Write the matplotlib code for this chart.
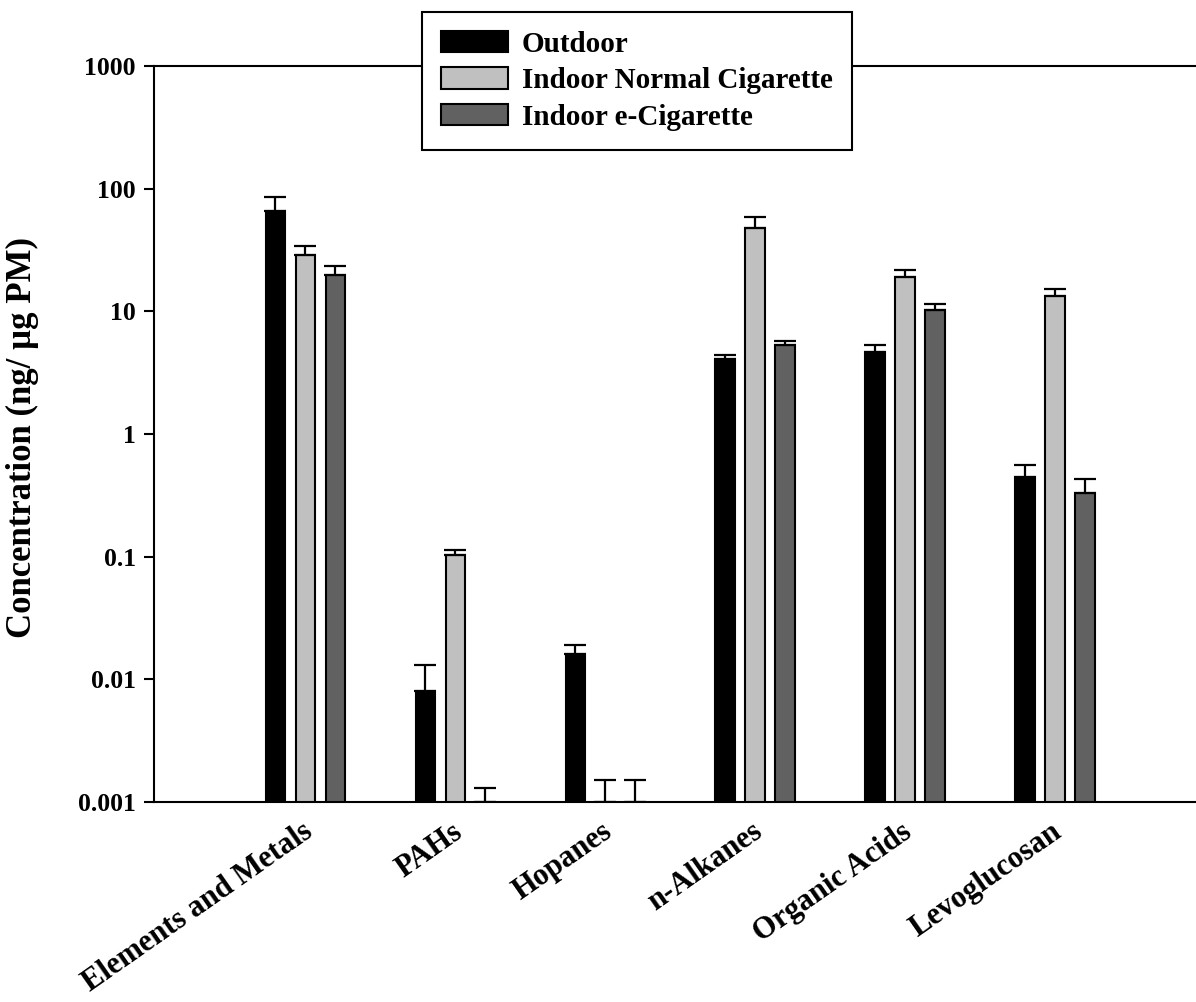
import numpy as np
import matplotlib
matplotlib.use("Agg")
import matplotlib.pyplot as plt
from matplotlib.transforms import ScaledTranslation

categories = ["Elements and Metals", "PAHs", "Hopanes", "n-Alkanes", "Organic Acids", "Levoglucosan"]
series = ["Outdoor", "Indoor Normal Cigarette", "Indoor e-Cigarette"]
outdoor = [65.7, 0.0081, 0.0161, 4.11, 4.66, 0.443]
outdoor_upper = [86.0, 0.0131, 0.019, 4.4, 5.28, 0.559]
indoor_cig = [28.8, 0.103, 0.001, 47.5, 19.1, 13.4]
indoor_cig_upper = [34.3, 0.113, 0.0015, 58.7, 21.6, 15.3]
indoor_ecig = [19.8, 0.001, 0.001, 5.31, 10.2, 0.329]
indoor_ecig_upper = [23.4, 0.0013, 0.0015, 5.73, 11.5, 0.427]
yticks = [0.001, 0.01, 0.1, 1, 10, 100, 1000]
yticklabels = ["0.001", "0.01", "0.1", "1", "10", "100", "1000"]

colors = ["#000000", "#c0c0c0", "#616161"]

plt.rcParams['font.family'] = ['Liberation Serif', 'DejaVu Serif']
plt.rcParams['font.weight'] = 'bold'

fig = plt.figure(figsize=(11.96, 10.02), dpi=100)
ax = fig.add_axes([154/1196, 1-802/1002, 1-154/1196, (802-66)/1002])
ax.set_yscale('log')
ax.set_ylim(0.001, 1000)

x = np.arange(len(categories))
width = 0.127
offs = [-0.2, 0.0, 0.2]
vals = [outdoor, indoor_cig, indoor_ecig]
ups = [outdoor_upper, indoor_cig_upper, indoor_ecig_upper]
handles = []
for i in range(3):
    v = np.array(vals[i]); u = np.array(ups[i])
    b = ax.bar(x + offs[i], v, width, color=colors[i], edgecolor='black', linewidth=1.5,
               label=series[i], zorder=2)
    handles.append(b)
    ax.errorbar(x + offs[i], v, yerr=[np.zeros_like(v), u - v], fmt='none', ecolor='black',
                elinewidth=1.6, capsize=8, capthick=1.6, zorder=3)

ax.set_xlim(-1.007, 5.94)
ax.set_xticks(x)
ax.set_xticklabels(categories, rotation=35, ha='right', rotation_mode='anchor', fontsize=22, fontweight='bold')
ax.tick_params(axis='x', length=0, pad=11)
for lab in ax.get_xticklabels():
    lab.set_transform(lab.get_transform() + ScaledTranslation(-0.04, 0, fig.dpi_scale_trans))

ax.set_yticks(yticks)
ax.set_yticklabels(yticklabels, fontsize=18.5, fontweight='bold')
ax.yaxis.set_minor_locator(matplotlib.ticker.NullLocator())
ax.tick_params(axis='y', direction='out', length=7, width=1.5, pad=6)

for s in ['left', 'bottom', 'top']:
    ax.spines[s].set_linewidth(1.5)
ax.spines['right'].set_visible(False)

fig.text(22/1196, 1-437/1002, "Concentration (ng/ µg PM)", rotation=90, ha='center', va='center',
         fontsize=25, fontweight='bold')

leg = fig.legend(handles=handles, labels=series, loc='upper left',
                 bbox_to_anchor=(422/1196, 1-12/1002), bbox_transform=fig.transFigure,
                 borderaxespad=0, prop={'weight': 'bold', 'size': 21},
                 handlelength=2.3, handleheight=0.75, handletextpad=0.48, labelspacing=0.32,
                 borderpad=0.65, fancybox=False, framealpha=1, edgecolor='black')
leg.get_frame().set_linewidth(1.5)

fig.savefig("out.png", dpi=100)
